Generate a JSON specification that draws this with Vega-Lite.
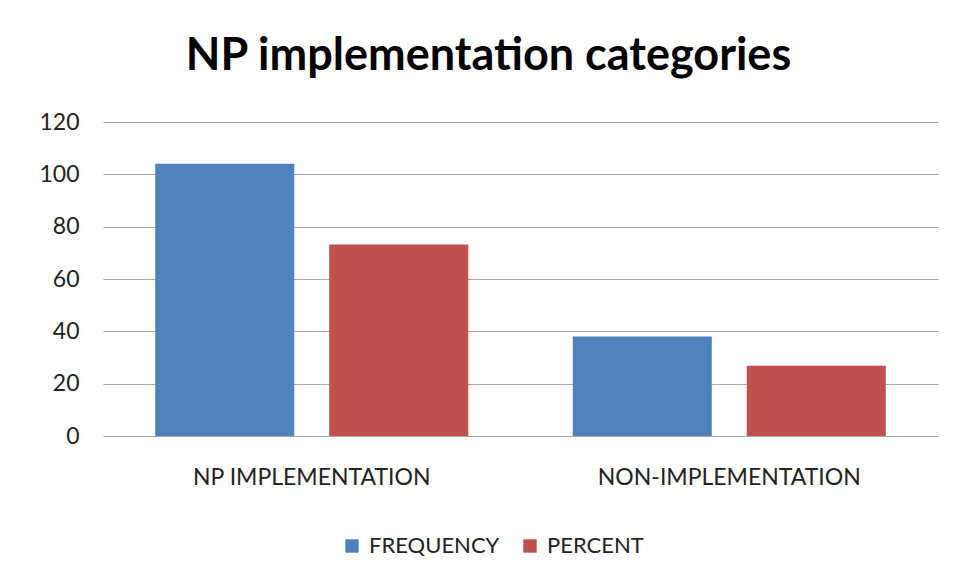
{
  "$schema": "https://vega.github.io/schema/vega-lite/v6.json",
  "width": 835,
  "height": 314,
  "autosize": {"type": "none"},
  "padding": {"left": 103, "top": 122, "right": 20, "bottom": 145},
  "background": "white",
  "title": {
    "text": "NP implementation categories",
    "font": "Lato",
    "fontWeight": "bold",
    "fontSize": 45,
    "color": "#000000",
    "anchor": "middle",
    "baseline": "alphabetic",
    "offset": -4,
    "dx": -32
  },
  "data": {
    "values": [
      {"category": "NP IMPLEMENTATION", "series": "FREQUENCY", "value": 104},
      {"category": "NP IMPLEMENTATION", "series": "PERCENT", "value": 73.2},
      {"category": "NON-IMPLEMENTATION", "series": "FREQUENCY", "value": 38},
      {"category": "NON-IMPLEMENTATION", "series": "PERCENT", "value": 26.8}
    ]
  },
  "mark": {"type": "bar"},
  "encoding": {
    "x": {
      "field": "category",
      "type": "nominal",
      "sort": ["NP IMPLEMENTATION", "NON-IMPLEMENTATION"],
      "scale": {"paddingInner": 0, "paddingOuter": 0},
      "axis": {
        "title": null,
        "labelAngle": 0,
        "labelFont": "Lato",
        "labelFontSize": 23,
        "labelColor": "#222222",
        "labelPadding": 30,
        "labelLimit": 0,
        "ticks": false,
        "domain": false,
        "grid": false
      }
    },
    "xOffset": {
      "field": "series",
      "type": "nominal",
      "sort": ["FREQUENCY", "PERCENT"],
      "scale": {"paddingInner": 0.201, "paddingOuter": 0.3}
    },
    "y": {
      "field": "value",
      "type": "quantitative",
      "scale": {"domain": [0, 120], "nice": false},
      "axis": {
        "title": null,
        "values": [0, 20, 40, 60, 80, 100, 120],
        "labelFont": "Lato",
        "labelFontSize": 23,
        "labelColor": "#222222",
        "labelPadding": 24,
        "ticks": false,
        "domain": false,
        "grid": true,
        "gridColor": "#a6a6a6",
        "gridWidth": 1.2
      }
    },
    "color": {
      "field": "series",
      "type": "nominal",
      "sort": ["FREQUENCY", "PERCENT"],
      "scale": {"domain": ["FREQUENCY", "PERCENT"], "range": ["#4F81BD", "#C0504D"]},
      "legend": {
        "title": null,
        "orient": "none",
        "direction": "horizontal",
        "legendX": 238,
        "legendY": 413,
        "symbolType": "square",
        "symbolSize": 180,
        "symbolStrokeWidth": 0,
        "labelFont": "Lato",
        "labelFontSize": 22,
        "labelColor": "#222222",
        "columnPadding": 19,
        "labelOffset": 6
      }
    }
  },
  "config": {
    "view": {"stroke": null},
    "bar": {"stroke": null}
  }
}
